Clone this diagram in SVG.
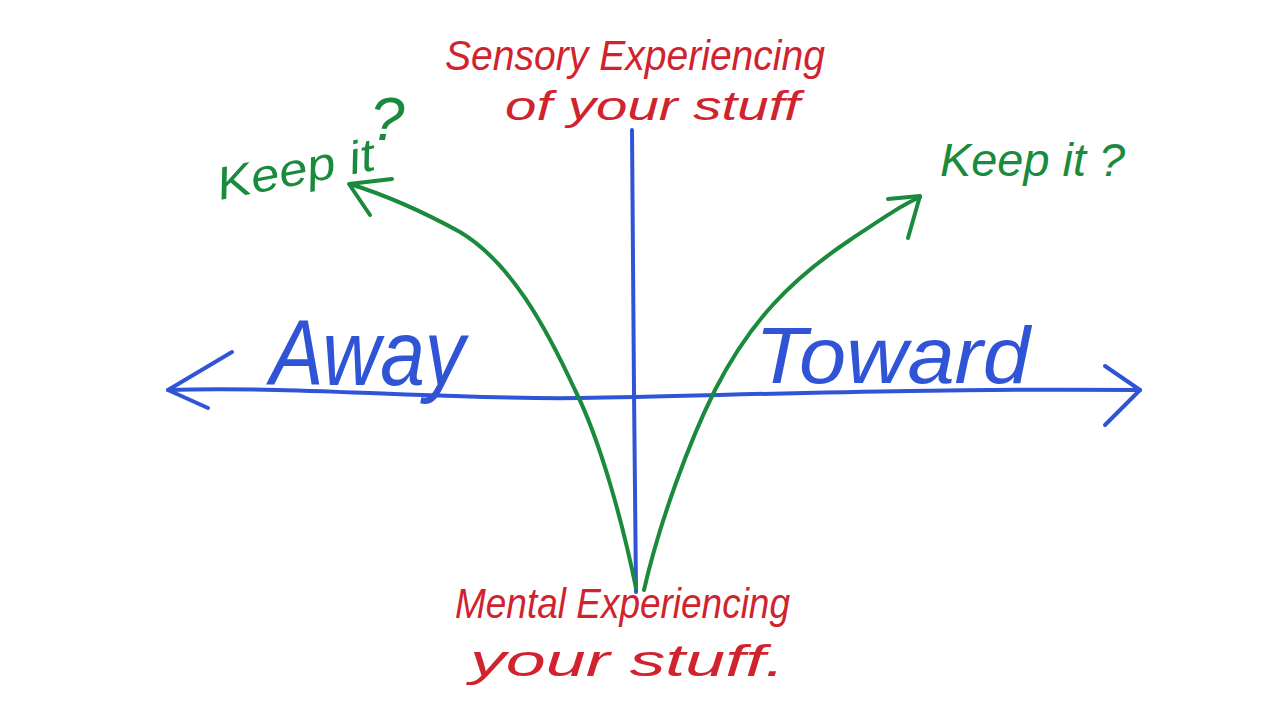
<svg xmlns="http://www.w3.org/2000/svg" width="1280" height="720" viewBox="0 0 1280 720">
<style>
.bl{fill:none;stroke:#2f54d6;stroke-width:4;stroke-linecap:round;stroke-linejoin:round}
.gr{fill:none;stroke:#1a8a3c;stroke-width:4;stroke-linecap:round;stroke-linejoin:round}
.red{fill:#d0232e;font-family:"Liberation Sans",Arial,sans-serif;font-style:italic}
.grt{fill:#1a8a3c;font-family:"Liberation Sans",Arial,sans-serif;font-style:italic}
.blt{fill:#2f54d6;font-family:"Liberation Sans",Arial,sans-serif;font-style:italic}
</style>
<rect width="1280" height="720" fill="#ffffff"/>
<g id="connectors">
<path class="bl" d="M168,390 C300,386 450,400 580,398 C720,396 900,388 1140,390"/>
<path class="bl" d="M232,352 L168,390 L208,408"/>
<path class="bl" d="M1105,366 L1140,390 L1105,425"/>
<path class="bl" d="M632,130 L634,390 L636,592"/>
<path class="gr" d="M636,588 C622,520 600,440 575,390 C545,325 510,262 460,232 C420,210 385,195 350,184"/>
<path class="gr" d="M392,179 L349,184 L370,215"/>
<path class="gr" d="M644,590 C660,520 690,440 715,390 C750,322 790,280 850,240 C880,220 900,206 920,197"/>
<path class="gr" d="M888,199 L920,196 L908,238"/>
</g>
<g id="sensory">
<text class="red" x="445" y="70" font-size="42" textLength="380" lengthAdjust="spacingAndGlyphs">Sensory Experiencing</text>
<text class="red" x="505" y="120" font-size="40" textLength="295" lengthAdjust="spacingAndGlyphs">of your stuff</text>
</g>
<g id="mental">
<text class="red" x="455" y="618" font-size="42" textLength="335" lengthAdjust="spacingAndGlyphs">Mental Experiencing</text>
<text class="red" x="470" y="676" font-size="44" textLength="315" lengthAdjust="spacingAndGlyphs">your stuff.</text>
</g>
<g id="keep-left">
<text class="grt" x="220" y="200" font-size="46" textLength="160" lengthAdjust="spacingAndGlyphs" transform="rotate(-11 220 200)">Keep it</text>
<text class="grt" x="370" y="140" font-size="62">?</text>
</g>
<g id="keep-right">
<text class="grt" x="940" y="176" font-size="46" textLength="185" lengthAdjust="spacingAndGlyphs">Keep it ?</text>
</g>
<g id="away">
<text class="blt" x="270" y="385" font-size="92" textLength="195" lengthAdjust="spacingAndGlyphs">Away</text>
</g>
<g id="toward">
<text class="blt" x="755" y="383" font-size="80" textLength="275" lengthAdjust="spacingAndGlyphs">Toward</text>
</g>
</svg>
